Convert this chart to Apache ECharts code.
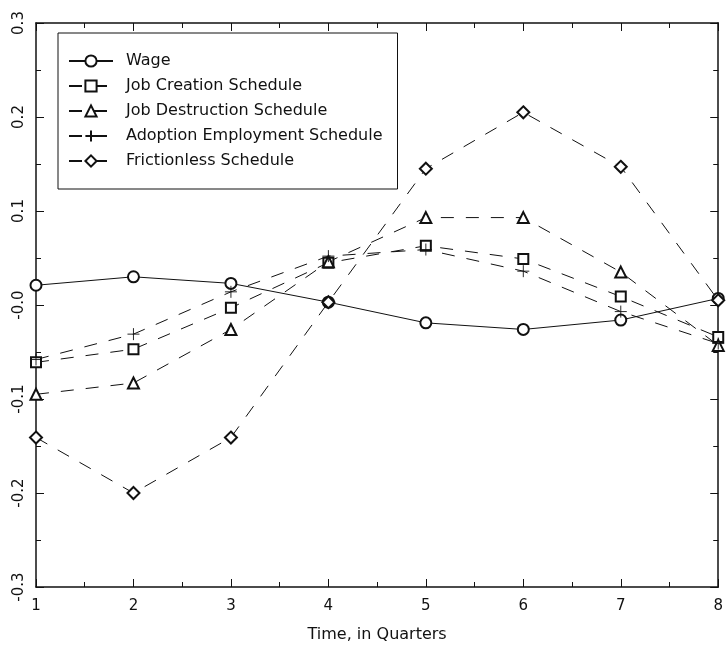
<!DOCTYPE html>
<html>
<head>
<meta charset="utf-8">
<script src="https://cdn.jsdelivr.net/npm/echarts@6/dist/echarts.min.js"></script>
<style>
html,body{margin:0;padding:0;background:#fff;}
#chart{width:726px;height:658px;}
</style>
</head>
<body>
<div id="chart"></div>
<script>
var quarters = [1, 2, 3, 4, 5, 6, 7, 8];
var wage = [0.021, 0.030, 0.023, 0.003, -0.019, -0.026, -0.016, 0.007];
var jobCreation = [-0.061, -0.047, -0.003, 0.045, 0.063, 0.049, 0.009, -0.034];
var jobDestruction = [-0.095, -0.083, -0.026, 0.046, 0.093, 0.093, 0.035, -0.043];
var adoption = [-0.058, -0.031, 0.014, 0.052, 0.059, 0.036, -0.007, -0.041];
var frictionless = [-0.141, -0.200, -0.141, 0.003, 0.145, 0.205, 0.147, 0.005];
var seriesNames = ['Wage', 'Job Creation Schedule', 'Job Destruction Schedule', 'Adoption Employment Schedule', 'Frictionless Schedule'];
var yTickValues = [-0.3, -0.2, -0.1, 0.0, 0.1, 0.2, 0.3];
var yTickLabels = ['-0.3', '-0.2', '-0.1', '-0.0', '0.1', '0.2', '0.3'];
var xTickLabels = ['1', '2', '3', '4', '5', '6', '7', '8'];
var xName = 'Time, in Quarters';

function pairs(vals) { return quarters.map(function (q, i) { return [q, vals[i]]; }); }
function yLabel(v) {
  var best = 0, d = 1e9;
  for (var i = 0; i < yTickValues.length; i++) { var dd = Math.abs(yTickValues[i] - v); if (dd < d) { d = dd; best = i; } }
  return yTickLabels[best];
}
function xLabel(v) { var i = quarters.indexOf(Math.round(v)); return i >= 0 ? xTickLabels[i] : ''; }

var FONT = 'DejaVu Sans';
var INK = '#111';
var dash = [13, 12];
var plusPath = 'path://M5,0L5,10M0,5L10,5';

function mk(name, vals, symbol, size, solid) {
  return {
    name: name, type: 'line', data: pairs(vals),
    symbol: symbol, symbolSize: size, showSymbol: true,
    lineStyle: { color: INK, width: 1, type: solid ? 'solid' : dash },
    itemStyle: { color: INK, borderColor: INK, borderWidth: 0.9 },
    emphasis: { disabled: true }, animation: false, z: 3
  };
}

var series = [
  mk(seriesNames[0], wage, 'emptyCircle', 11, true),
  mk(seriesNames[1], jobCreation, 'emptyRect', 10, false),
  mk(seriesNames[2], jobDestruction, 'emptyTriangle', 11, false),
  mk(seriesNames[3], adoption, plusPath, 12, false),
  mk(seriesNames[4], frictionless, 'emptyDiamond', 12, false)
];

var axisLineStyle = { color: INK, width: 1.5 };
var chart = echarts.init(document.getElementById('chart'), null, { renderer: 'canvas' });
chart.setOption({
  animation: false,
  backgroundColor: '#fff',
  textStyle: { fontFamily: FONT, color: INK },
  grid: { left: 36, right: 3, top: 23, bottom: 71, containLabel: false },
  legend: {
    orient: 'vertical', left: 58, top: 33,
    data: seriesNames,
    backgroundColor: '#fff',
    borderColor: INK, borderWidth: 1,
    padding: [20, 15, 20, 10],
    itemWidth: 44, itemHeight: 14, itemGap: 9,
    textStyle: { fontFamily: FONT, fontSize: 16, color: INK, padding: [0, 0, 0, 8] },
    selectedMode: false
  },
  xAxis: [{
    type: 'value', min: 1, max: 8, interval: 1,
    name: xName, nameLocation: 'middle', nameGap: 40,
    nameTextStyle: { fontFamily: FONT, fontSize: 16, color: INK },
    axisLine: { show: true, onZero: false, lineStyle: axisLineStyle },
    axisTick: { show: true, inside: true, length: 8, lineStyle: { color: INK } },
    minorTick: { show: true, splitNumber: 2, length: 5, lineStyle: { color: INK } },
    splitLine: { show: false },
    axisLabel: { fontFamily: FONT, fontSize: 15, color: INK, margin: 12, formatter: xLabel }
  }, {
    type: 'value', min: 1, max: 8, interval: 1, position: 'top',
    axisLine: { show: true, onZero: false, lineStyle: axisLineStyle },
    axisTick: { show: true, inside: true, length: 8, lineStyle: { color: INK } },
    minorTick: { show: true, splitNumber: 2, length: 5, lineStyle: { color: INK } },
    splitLine: { show: false }, axisLabel: { show: false }
  }],
  yAxis: [{
    type: 'value', min: -0.3, max: 0.3, interval: 0.1,
    axisLine: { show: true, onZero: false, lineStyle: axisLineStyle },
    axisTick: { show: true, inside: true, length: 8, lineStyle: { color: INK } },
    minorTick: { show: true, splitNumber: 2, length: 5, lineStyle: { color: INK } },
    splitLine: { show: false },
    axisLabel: { fontFamily: FONT, fontSize: 15, color: INK, rotate: 90, margin: 9, formatter: yLabel }
  }, {
    type: 'value', min: -0.3, max: 0.3, interval: 0.1, position: 'right',
    axisLine: { show: true, onZero: false, lineStyle: axisLineStyle },
    axisTick: { show: true, inside: true, length: 8, lineStyle: { color: INK } },
    minorTick: { show: true, splitNumber: 2, length: 5, lineStyle: { color: INK } },
    splitLine: { show: false }, axisLabel: { show: false }
  }],
  series: series
});
</script>
</body>
</html>
